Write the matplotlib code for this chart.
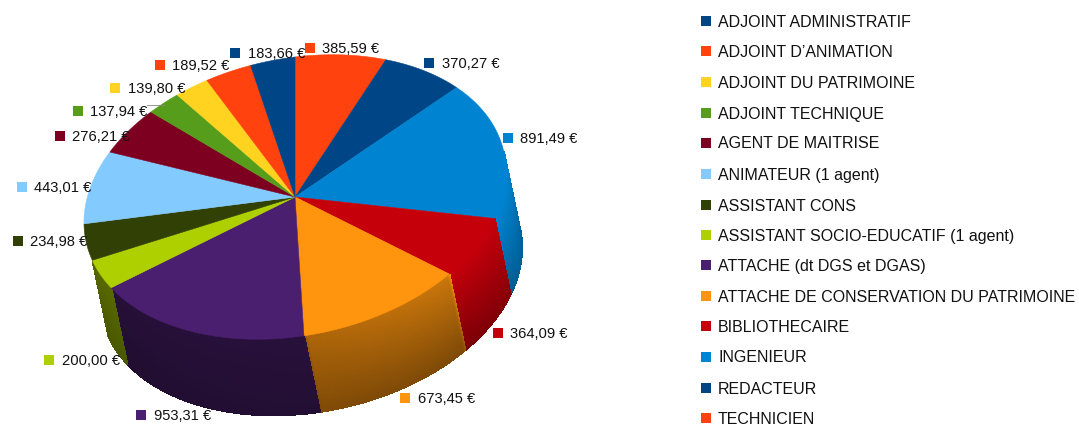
import matplotlib
matplotlib.use('Agg')
import matplotlib.pyplot as plt
import numpy as np
from matplotlib.collections import PolyCollection
from matplotlib.patches import Polygon, Rectangle

plt.rcParams['font.family'] = ['Liberation Sans', 'DejaVu Sans']

# Legend order
categories = ['ADJOINT ADMINISTRATIF', 'ADJOINT D\u2019ANIMATION', 'ADJOINT DU PATRIMOINE',
              'ADJOINT TECHNIQUE', 'AGENT DE MAITRISE', 'ANIMATEUR (1 agent)', 'ASSISTANT CONS',
              'ASSISTANT SOCIO-EDUCATIF (1 agent)', 'ATTACHE (dt DGS et DGAS)',
              'ATTACHE DE CONSERVATION DU PATRIMOINE', 'BIBLIOTHECAIRE', 'INGENIEUR',
              'REDACTEUR', 'TECHNICIEN']
values = [183.66, 189.52, 139.80, 137.94, 276.21, 443.01, 234.98,
          200.00, 953.31, 673.45, 364.09, 891.49, 370.27, 385.59]
colors = ['#004586', '#ff420e', '#ffd320', '#579d1c', '#7e0021', '#83caff', '#314004',
          '#aecf00', '#4b1f6f', '#ff950e', '#c5000b', '#0084d1', '#004586', '#ff420e']

# Pixel positions of the value labels (square centre x, y)
label_pos = [(235, 53), (160, 65), (115, 88), (78, 111), (60, 136), (22, 187), (18, 241),
             (49, 360), (141, 415), (405, 398), (498, 333), (508, 138), (429, 63), (310, 48)]
legend_y = [21, 51, 82, 113, 143, 174, 205, 235, 265, 296, 326, 357, 388, 418]

# Pie geometry in pixels: tilted disc, pushed down by the depth vector
cx, cy = 295, 197
rx, ry = 211, 140
tilt = -0.12
depth_x, depth_y = 16, 76
wall_from, wall_to = 82, 253.5


def rim(theta):
    t = np.radians(theta)
    return cx + rx * np.sin(t), cy - ry * np.cos(t) + tilt * rx * np.sin(t)


def side_shade(theta, v):
    # light comes from the right, the front and left walls are much darker
    stops = [100, 133, 134, 177, 178, 260]
    top = np.interp(theta, stops, [1.0, 1.0, 0.8, 0.68, 0.53, 0.5])
    bottom = np.interp(theta, stops, [0.72, 0.62, 0.5, 0.5, 0.47, 0.42])
    return top + (bottom - top) * v


fig = plt.figure(figsize=(10.79, 4.25), dpi=100)
ax = fig.add_axes([0, 0, 1, 1])
ax.set_xlim(0, 1079)
ax.set_ylim(425, 0)
ax.axis('off')

# Slices run clockwise from the top, starting with the last category
order = list(range(len(values)))[::-1]
vals = np.array(values)[order]
edges = np.concatenate([[0], np.cumsum(vals)]) / vals.sum() * 360

# Walls, only the part that faces the viewer
quads = []
quad_colors = []
for i, k in enumerate(order):
    start = max(edges[i], wall_from)
    stop = min(edges[i + 1], wall_to)
    if stop <= start:
        continue
    base = np.array(matplotlib.colors.to_rgb(colors[k]))
    th = np.linspace(start, stop, int((stop - start) * 2) + 2)
    for a, b in zip(th[:-1], th[1:]):
        xa, ya = rim(a)
        xb, yb = rim(b)
        for s in np.linspace(0, 1, 31)[:-1]:
            e = s + 1 / 30
            quads.append([(xa + depth_x * s, ya + depth_y * s), (xb + depth_x * s, yb + depth_y * s),
                          (xb + depth_x * e, yb + depth_y * e), (xa + depth_x * e, ya + depth_y * e)])
            quad_colors.append(np.clip(base * side_shade((a + b) / 2, s + 1 / 60), 0, 1))

ax.add_collection(PolyCollection(quads, facecolors=quad_colors, edgecolors=quad_colors,
                                 linewidths=0.8, antialiaseds=False, zorder=1))

# Top face
for i, k in enumerate(order):
    th = np.linspace(edges[i], edges[i + 1], 60)
    xs, ys = rim(th)
    pts = np.column_stack([np.r_[cx, xs], np.r_[cy, ys]])
    ax.add_patch(Polygon(pts, closed=True, facecolor=colors[k], edgecolor=colors[k],
                         linewidth=0.4, zorder=2))

# Value labels
for v, c, (sx, sy) in zip(values, colors, label_pos):
    ax.add_patch(Rectangle((sx - 5, sy - 5), 10, 10, facecolor=c, edgecolor='none', zorder=3))
    ax.text(sx + 12.5, sy + 1, f'{v:.2f} \u20ac'.replace('.', ','), fontsize=10.6, color='#111111',
            va='center', ha='left', zorder=4)

# small leader line next to 137,94
ax.plot([147, 165], [105, 105], color='#888888', linewidth=0.6, zorder=3)

# Legend
for name, c, y in zip(categories, colors, legend_y):
    ax.add_patch(Rectangle((701, y - 5), 10, 10, facecolor=c, edgecolor='none', zorder=3))
    ax.text(718, y + 1, name, fontsize=11.5, color='#111111', va='center', ha='left', zorder=4)

fig.savefig('out.png', dpi=100)
